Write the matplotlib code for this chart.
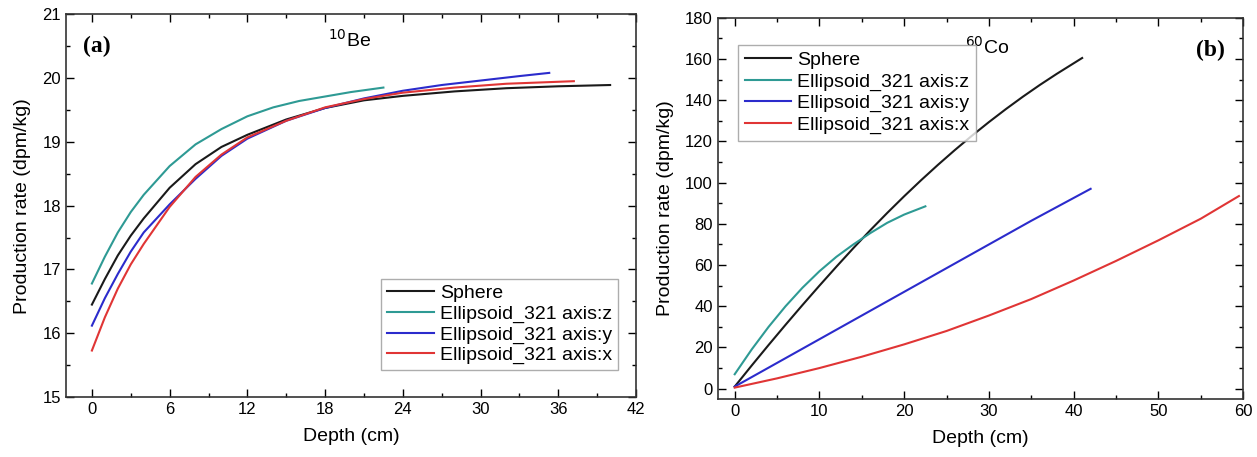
import matplotlib
matplotlib.use('Agg')
from matplotlib import pyplot as plt
from matplotlib.ticker import MultipleLocator

plt.rcParams['font.family'] = ['Liberation Sans', 'DejaVu Sans']

# ---- (a) 10Be ----
be_sphere_x = [0, 1, 2, 3, 4, 6, 8, 10, 12, 15, 18, 21, 24, 28, 32, 36, 40]
be_sphere_y = [16.45, 16.85, 17.22, 17.53, 17.8, 18.28, 18.65, 18.92, 19.11,
               19.35, 19.53, 19.65, 19.72, 19.79, 19.84, 19.87, 19.89]
be_z_x = [0, 1, 2, 3, 4, 6, 8, 10, 12, 14, 16, 18, 20, 22.5]
be_z_y = [16.78, 17.2, 17.58, 17.9, 18.17, 18.62, 18.96, 19.2, 19.4,
          19.54, 19.64, 19.71, 19.78, 19.85]
be_y_x = [0, 1, 2, 3, 4, 6, 8, 10, 12, 15, 18, 21, 24, 27, 30, 33, 35.3]
be_y_y = [16.12, 16.55, 16.93, 17.28, 17.58, 18.02, 18.42, 18.78, 19.05,
          19.33, 19.53, 19.68, 19.8, 19.89, 19.96, 20.03, 20.08]
be_x_x = [0, 1, 2, 3, 4, 6, 8, 10, 12, 15, 18, 21, 24, 28, 32, 37.2]
be_x_y = [15.73, 16.25, 16.7, 17.08, 17.4, 17.98, 18.45, 18.8, 19.07,
          19.33, 19.54, 19.67, 19.77, 19.85, 19.91, 19.95]

# ---- (b) 60Co ----
co_sphere_x = [0, 2, 4, 6, 8, 10, 12, 14, 16, 18, 20, 22, 24, 26, 28, 30,
               32, 34, 36, 38, 41]
co_sphere_y = [1, 11.2, 21.2, 31.0, 40.6, 50.0, 59.2, 68.2, 76.9, 85.3, 93.4,
               101.2, 108.7, 115.9, 122.8, 129.4, 135.7, 141.7, 147.4, 152.8,
               160.5]
co_z_x = [0, 2, 4, 6, 8, 10, 12, 14, 16, 18, 20, 22.5]
co_z_y = [7, 19, 30, 40, 49, 57, 64, 70, 75.5, 80.5, 84.5, 88.5]
co_y_x = [0, 5, 10, 15, 20, 25, 30, 35, 42]
co_y_y = [1, 12.5, 24, 35.5, 47, 58.5, 70, 81.5, 97]
co_x_x = [0, 5, 10, 15, 20, 25, 30, 35, 40, 45, 50, 55, 59.5]
co_x_y = [0.5, 5, 10, 15.5, 21.5, 28, 35.5, 43.5, 52.5, 62, 72, 82.5, 93.5]

labels = ['Sphere', 'Ellipsoid_321 axis:z', 'Ellipsoid_321 axis:y',
          'Ellipsoid_321 axis:x']
colors = ['#1a1a1a', '#2e9a94', '#2b2bcc', '#e03535']

fig = plt.figure(figsize=(12.57, 4.57), dpi=100)
ax1 = fig.add_axes([0.0525, 0.131, 0.4535, 0.838])
ax2 = fig.add_axes([0.571, 0.127, 0.418, 0.834])


def style(ax):
    ax.tick_params(which='both', direction='in', top=True, right=True,
                   labelsize=12, width=1)
    ax.tick_params(which='major', length=6)
    ax.tick_params(which='minor', length=3)
    for s in ax.spines.values():
        s.set_linewidth(1.2)
        s.set_color('#333333')
    ax.set_xlabel('Depth (cm)', fontsize=14, labelpad=8)
    ax.set_ylabel('Production rate (dpm/kg)', fontsize=14, labelpad=8)


be_data = [(be_sphere_x, be_sphere_y), (be_z_x, be_z_y),
           (be_y_x, be_y_y), (be_x_x, be_x_y)]
for (x, y), lab, c in zip(be_data, labels, colors):
    ax1.plot(x, y, color=c, lw=1.5, label=lab)
ax1.set_xlim(-2, 42)
ax1.set_ylim(15, 21)
ax1.xaxis.set_major_locator(MultipleLocator(6))
ax1.xaxis.set_minor_locator(MultipleLocator(3))
ax1.yaxis.set_major_locator(MultipleLocator(1))
ax1.yaxis.set_minor_locator(MultipleLocator(0.5))
style(ax1)
ax1.text(0.03, 0.9, '(a)', transform=ax1.transAxes, fontsize=17,
         fontweight='bold', family='Liberation Serif')
ax1.text(0.46, 0.915, r'$^{10}$Be', transform=ax1.transAxes, fontsize=14)
leg1 = ax1.legend(loc='lower right', fontsize=14, frameon=True, fancybox=False,
                  handlelength=2.4, handletextpad=0.3, borderpad=0.3,
                  labelspacing=0.15, bbox_to_anchor=(0.985, 0.045))
leg1.get_frame().set_edgecolor('#999999')
leg1.get_frame().set_linewidth(1)

co_data = [(co_sphere_x, co_sphere_y), (co_z_x, co_z_y),
           (co_y_x, co_y_y), (co_x_x, co_x_y)]
for (x, y), lab, c in zip(co_data, labels, colors):
    ax2.plot(x, y, color=c, lw=1.5, label=lab)
ax2.set_xlim(-2, 60)
ax2.set_ylim(-5, 180)
ax2.xaxis.set_major_locator(MultipleLocator(10))
ax2.xaxis.set_minor_locator(MultipleLocator(5))
ax2.yaxis.set_major_locator(MultipleLocator(20))
ax2.yaxis.set_minor_locator(MultipleLocator(10))
style(ax2)
ax2.text(0.91, 0.9, '(b)', transform=ax2.transAxes, fontsize=17,
         fontweight='bold', family='Liberation Serif')
ax2.text(0.47, 0.905, r'$^{60}$Co', transform=ax2.transAxes, fontsize=14)
leg2 = ax2.legend(loc='upper left', fontsize=14, frameon=True, fancybox=False,
                  handlelength=2.4, handletextpad=0.3, borderpad=0.35,
                  labelspacing=0.2, bbox_to_anchor=(0.02, 0.955))
leg2.get_frame().set_edgecolor('#999999')
leg2.get_frame().set_linewidth(1)

fig.savefig('out.png', dpi=100)
